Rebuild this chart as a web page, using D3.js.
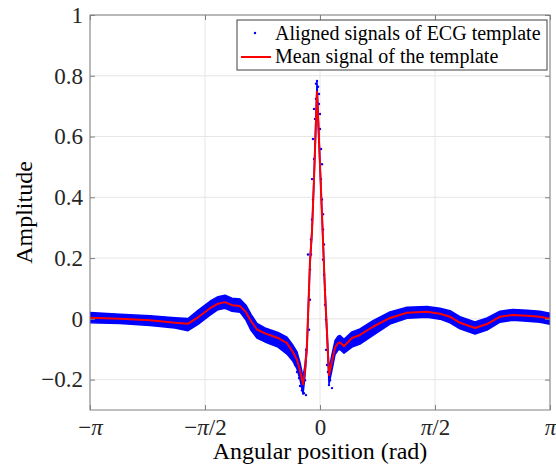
<!DOCTYPE html>
<html>
<head>
<meta charset="utf-8">
<script src="https://cdnjs.cloudflare.com/ajax/libs/d3/7.8.5/d3.min.js"></script>
<style>
  body { margin: 0; background: #fff; }
  svg text { font-family: 'Liberation Serif', 'Times New Roman', Times, 'DejaVu Serif', serif; }
</style>
</head>
<body>
<div id="vis"></div>
<script>
// mean signal of the template (angle in rad, amplitude)
const angle = [-3.142, -2.732, -2.322, -1.981, -1.803, -1.666, -1.502, -1.393, -1.298, -1.202,
  -1.093, -1.011, -0.942, -0.861, -0.751, -0.574, -0.451, -0.369, -0.314, -0.273,
  -0.232, -0.205, -0.178, -0.137, -0.109, -0.082, -0.041, 0, 0.027, 0.068,
  0.096, 0.123, 0.164, 0.205, 0.246, 0.273, 0.328, 0.437, 0.546, 0.724,
  0.956, 1.188, 1.462, 1.639, 1.776, 1.912, 2.117, 2.281, 2.459, 2.636,
  2.827, 3.005, 3.142];
const meanAmp = [0.004, 0.0, -0.005, -0.013, -0.016, 0.005, 0.035, 0.05, 0.055, 0.045,
  0.042, 0.022, -0.008, -0.035, -0.048, -0.063, -0.08, -0.11, -0.135, -0.17,
  -0.215, -0.17, -0.09, 0.185, 0.29, 0.46, 0.747, 0.506, 0.344, 0.09,
  -0.05, -0.185, -0.14, -0.095, -0.08, -0.078, -0.09, -0.063, -0.053, -0.026,
  0.003, 0.02, 0.023, 0.017, 0.007, -0.013, -0.03, -0.017, 0.007, 0.013,
  0.01, 0.007, 0.0];
// spread of the aligned signals above / below the mean
const spreadHi = [0.017, 0.015, 0.015, 0.017, 0.017, 0.023, 0.023, 0.023, 0.023, 0.023,
  0.023, 0.023, 0.023, 0.02, 0.018, 0.018, 0.02, 0.023, 0.026, 0.026,
  0.023, 0.018, 0.01, 0.007, 0.007, 0.007, 0.033, 0.007, 0.007, 0.007,
  0.01, 0.018, 0.023, 0.023, 0.023, 0.023, 0.023, 0.02, 0.02, 0.02,
  0.02, 0.018, 0.018, 0.018, 0.02, 0.02, 0.02, 0.02, 0.018, 0.018,
  0.018, 0.018, 0.018];
const spreadLo = [0.017, 0.015, 0.017, 0.017, 0.023, 0.023, 0.023, 0.02, 0.02, 0.02,
  0.02, 0.026, 0.03, 0.028, 0.028, 0.03, 0.036, 0.03, 0.03, 0.03,
  0.033, 0.018, 0.01, 0.007, 0.007, 0.007, 0.007, 0.007, 0.007, 0.007,
  0.01, 0.03, 0.028, 0.023, 0.023, 0.023, 0.023, 0.03, 0.03, 0.028,
  0.02, 0.018, 0.018, 0.018, 0.02, 0.02, 0.02, 0.02, 0.018, 0.018,
  0.018, 0.018, 0.018];
// loose samples of the aligned signals around the QRS complex
const dotAngle = [-0.123, -0.137, -0.15, -0.137, -0.164, -0.15, -0.178, -0.191, -0.164, -0.123,
  -0.109, -0.096, -0.109, -0.082, -0.096, -0.068, -0.082, -0.055, -0.055, -0.041,
  -0.027, -0.014, -0.014, 0, 0, 0.014, 0.027, 0.014, 0.027, 0.041,
  0.041, 0.055, 0.041, 0.055, 0.068, 0.068, 0.082, 0.096, 0.082,
  -0.341, -0.314, -0.287, -0.273, -0.246, -0.219, -0.191, -0.232, -0.3, -0.26, -0.205, -0.382,
  0.096, 0.109, 0.137, 0.164, 0.15, 0.178, 0.191, 0.123, 0.219];
const dotAmp = [0.212, 0.162, 0.096, 0.063, -0.003, -0.036, -0.086, -0.102, 0.212, 0.261,
  0.327, 0.393, 0.46, 0.526, 0.592, 0.658, 0.691, 0.724, 0.774, 0.783,
  0.764, 0.74, 0.707, 0.674, 0.625, 0.559, 0.509, 0.46, 0.393, 0.344,
  0.294, 0.245, 0.195, 0.145, 0.096, 0.046, -0.003, -0.053, -0.102,
  -0.152, -0.175, -0.195, -0.221, -0.235, -0.245, -0.251, -0.228, -0.142, -0.169, -0.202, -0.129,
  -0.152, -0.175, -0.202, -0.228, -0.175, -0.135, -0.119, -0.218, -0.109];

const xTickValues = [-Math.PI, -Math.PI / 2, 0, Math.PI / 2, Math.PI];
const xTickLabels = ["−π", "−π/2", "0", "π/2", "π"];
const yTickValues = [-0.2, 0, 0.2, 0.4, 0.6, 0.8, 1];
const yTickLabels = ["−0.2", "0", "0.2", "0.4", "0.6", "0.8", "1"];
const legendLabels = ["Aligned signals of ECG template", "Mean signal of the template"];

const serif = "'Liberation Serif', 'Times New Roman', Times, serif";
const width = 556, height = 475;
const margin = {left: 90, right: 6, top: 15, bottom: 65};
const svg = d3.select("#vis").append("svg")
    .attr("width", width)
    .attr("height", height);

var x = d3.scaleLinear().domain([-Math.PI, Math.PI]).range([margin.left, width - margin.right]);
var y = d3.scaleLinear().domain([-0.3, 1]).range([height - margin.bottom, margin.top]);

svg.append("clipPath").attr("id", "clip")
    .append("rect")
    .attr("x", x.range()[0]).attr("y", y.range()[1])
    .attr("width", x.range()[1] - x.range()[0])
    .attr("height", y.range()[0] - y.range()[1]);

// grid
svg.append("g").selectAll("line")
    .data(xTickValues)
    .join("line")
    .attr("x1", d => x(d)).attr("x2", d => x(d))
    .attr("y1", y.range()[0]).attr("y2", y.range()[1])
    .attr("stroke", "#e6e6e6").attr("stroke-width", 1);
svg.append("g").selectAll("line")
    .data(yTickValues)
    .join("line")
    .attr("y1", d => y(d)).attr("y2", d => y(d))
    .attr("x1", x.range()[0]).attr("x2", x.range()[1])
    .attr("stroke", "#e6e6e6").attr("stroke-width", 1);

var pts = angle.map((a, i) => ({a: a, m: meanAmp[i], hi: spreadHi[i], lo: spreadLo[i]}));
var plot = svg.append("g").attr("clip-path", "url(#clip)");

// aligned signals drawn as a dense band of blue samples
plot.append("path")
    .datum(pts)
    .attr("fill", "#0000ff")
    .attr("stroke", "#0000ff")
    .attr("stroke-width", 1.5)
    .attr("stroke-linejoin", "round")
    .attr("d", d3.area()
        .x(d => x(d.a))
        .y0(d => y(d.m - d.lo))
        .y1(d => y(d.m + d.hi)));

plot.append("g").selectAll("circle")
    .data(dotAngle.map((a, i) => [a, dotAmp[i]]))
    .join("circle")
    .attr("cx", d => x(d[0]))
    .attr("cy", d => y(d[1]))
    .attr("r", 1.2)
    .attr("fill", "#0000ff");

plot.append("path")
    .datum(pts)
    .attr("fill", "none")
    .attr("stroke", "#ff0000")
    .attr("stroke-width", 2)
    .attr("stroke-linejoin", "round")
    .attr("d", d3.line().x(d => x(d.a)).y(d => y(d.m)));

// axes with inward ticks
var xAxis = d3.axisBottom(x).tickValues(xTickValues).tickSize(-5).tickPadding(9)
    .tickFormat((d, i) => xTickLabels[i]);
var yAxis = d3.axisLeft(y).tickValues(yTickValues).tickSize(-5).tickPadding(7)
    .tickFormat((d, i) => yTickLabels[i]);
var gx = svg.append("g").attr("transform", "translate(0," + y.range()[0] + ")").call(xAxis);
var gy = svg.append("g").attr("transform", "translate(" + x.range()[0] + ",0)").call(yAxis);
svg.append("g").attr("transform", "translate(0," + y.range()[1] + ")")
    .call(d3.axisTop(x).tickValues(xTickValues).tickSize(-5).tickFormat(""));
svg.append("g").attr("transform", "translate(" + x.range()[1] + ",0)")
    .call(d3.axisRight(y).tickValues(yTickValues).tickSize(-5).tickFormat(""));
svg.selectAll(".domain").remove();
svg.selectAll("g").attr("font-family", null);
svg.selectAll(".tick line").attr("stroke", "#808080");
svg.selectAll(".tick text")
    .attr("fill", "#262626")
    .style("font-family", serif)
    .attr("font-size", 23);

// italic pi in the x tick labels
gx.selectAll(".tick text").each(function(d, i) {
    var t = d3.select(this);
    var parts = xTickLabels[i].split("π");
    t.text(null);
    parts.forEach((p, j) => {
        if (j > 0) t.append("tspan").attr("font-style", "italic").text("π");
        if (p) t.append("tspan").text(p);
    });
});

svg.append("rect")
    .attr("x", x.range()[0]).attr("y", y.range()[1])
    .attr("width", x.range()[1] - x.range()[0])
    .attr("height", y.range()[0] - y.range()[1])
    .attr("fill", "none").attr("stroke", "#808080").attr("stroke-width", 1);

// axis labels
svg.append("text")
    .attr("x", (x.range()[0] + x.range()[1]) / 2)
    .attr("y", 459)
    .attr("text-anchor", "middle")
    .style("font-family", serif)
    .attr("font-size", 24)
    .attr("fill", "#000")
    .text("Angular position (rad)");
svg.append("text")
    .attr("transform", "translate(32," + ((y.range()[0] + y.range()[1]) / 2) + ") rotate(-90)")
    .attr("text-anchor", "middle")
    .style("font-family", serif)
    .attr("font-size", 24)
    .attr("fill", "#000")
    .text("Amplitude");

// legend
var lg = svg.append("g").attr("transform", "translate(237,20)");
lg.append("rect")
    .attr("width", 310).attr("height", 50)
    .attr("fill", "#fff").attr("stroke", "#404040").attr("stroke-width", 1);
lg.append("circle").attr("cx", 18).attr("cy", 13).attr("r", 1.2).attr("fill", "#0000ff");
lg.append("line").attr("x1", 4).attr("x2", 34).attr("y1", 37).attr("y2", 37)
    .attr("stroke", "#ff0000").attr("stroke-width", 2);
lg.selectAll("text")
    .data(legendLabels)
    .join("text")
    .attr("x", 38)
    .attr("y", (d, i) => 20 + i * 23)
    .style("font-family", serif)
    .attr("font-size", 20)
    .attr("fill", "#000")
    .text(d => d);
</script>
</body>
</html>
